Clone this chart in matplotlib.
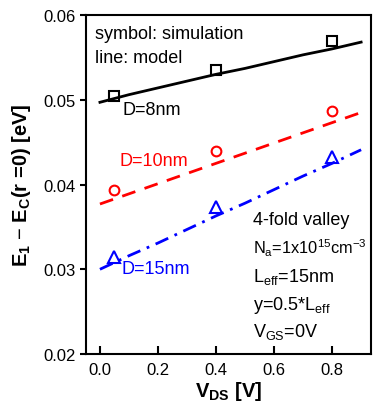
import matplotlib
matplotlib.use("Agg")
import matplotlib.pyplot as plt

plt.rcParams['font.family'] = ['Liberation Sans', 'DejaVu Sans']
plt.rcParams['mathtext.fontset'] = 'custom'
plt.rcParams['mathtext.rm'] = 'Liberation Sans'
plt.rcParams['mathtext.it'] = 'Liberation Sans'
plt.rcParams['mathtext.bf'] = 'Liberation Sans:bold'

# simulation points
vds_sim = [0.05, 0.4, 0.8]
sim_8nm = [0.0505, 0.0535, 0.0569]
sim_10nm = [0.0393, 0.0440, 0.0487]
sim_15nm = [0.0314, 0.0373, 0.0432]

# model curves
vds_mod = [0.0, 0.1, 0.2, 0.3, 0.4, 0.5, 0.6, 0.7, 0.8, 0.9]
mod_8nm = [0.0497, 0.0506, 0.0514, 0.0522, 0.0530, 0.0537, 0.0545, 0.0553, 0.0560, 0.0568]
mod_10nm = [0.0377, 0.0389, 0.0401, 0.0413, 0.0425, 0.0437, 0.0449, 0.0461, 0.0473, 0.0485]
mod_15nm = [0.0300, 0.0316, 0.0331, 0.0347, 0.0363, 0.0378, 0.0394, 0.0410, 0.0425, 0.0441]

xticks = [0.0, 0.2, 0.4, 0.6, 0.8]
yticks = [0.02, 0.03, 0.04, 0.05, 0.06]

fig = plt.figure(figsize=(3.73, 4.10), dpi=100)
ax = fig.add_axes([0.2306, 0.134, 0.764, 0.827])

ax.plot(vds_mod, mod_8nm, color='black', lw=2)
ax.plot(vds_mod, mod_10nm, color='red', lw=2, dashes=(5, 3.5))
ax.plot(vds_mod, mod_15nm, color='blue', lw=2, dashes=(5, 2.5, 1, 2.5))

ax.plot(vds_sim, sim_8nm, ls='none', marker='s', mfc='none', mec='black', ms=7, mew=1.5)
ax.plot(vds_sim, sim_10nm, ls='none', marker='o', mfc='none', mec='red', ms=7, mew=1.5)
ax.plot(vds_sim, sim_15nm, ls='none', marker='^', mfc='none', mec='blue', ms=8, mew=1.5)

ax.set_xlim(-0.048, 0.934)
ax.set_ylim(0.02, 0.06)
ax.set_xticks(xticks)
ax.set_yticks(yticks)
ax.set_xticklabels(['0.0', '0.2', '0.4', '0.6', '0.8'])
ax.set_yticklabels(['0.02', '0.03', '0.04', '0.05', '0.06'])
ax.tick_params(axis='x', direction='in', length=6, width=1.5, labelsize=12, pad=6)
ax.tick_params(axis='y', direction='out', length=4, width=1.5, labelsize=12)
for s in ax.spines.values():
    s.set_linewidth(1.5)

ax.set_xlabel(r'V$_\mathregular{DS}$ [V]', fontsize=14.5, fontweight='bold', labelpad=1)
ax.set_ylabel(r'E$_\mathregular{1}$ $-$ E$_\mathregular{C}$(r =0) [eV]', fontsize=14.5,
              fontweight='bold', labelpad=7)

fs = 13
ax.text(-0.017, 0.0578, 'symbol: simulation', fontsize=fs, va='center')
ax.text(-0.017, 0.0550, 'line: model', fontsize=fs, va='center')
ax.text(0.079, 0.0489, 'D=8nm', fontsize=fs, va='center', color='black')
ax.text(0.069, 0.0428, 'D=10nm', fontsize=fs, va='center', color='red')
ax.text(0.076, 0.0301, 'D=15nm', fontsize=fs, va='center', color='blue')

ax.text(0.527, 0.0359, '4-fold valley', fontsize=fs, va='center')
ax.text(0.527, 0.0326, r'N$_\mathregular{a}$=1x10$^\mathregular{15}$cm$^\mathregular{-3}$', fontsize=11.8, va='center')
ax.text(0.527, 0.0292, r'L$_\mathregular{eff}$=15nm', fontsize=fs, va='center')
ax.text(0.527, 0.0259, r'y=0.5*L$_\mathregular{eff}$', fontsize=fs, va='center')
ax.text(0.527, 0.0227, r'V$_\mathregular{GS}$=0V', fontsize=fs, va='center')

fig.savefig('out.png', dpi=100)
